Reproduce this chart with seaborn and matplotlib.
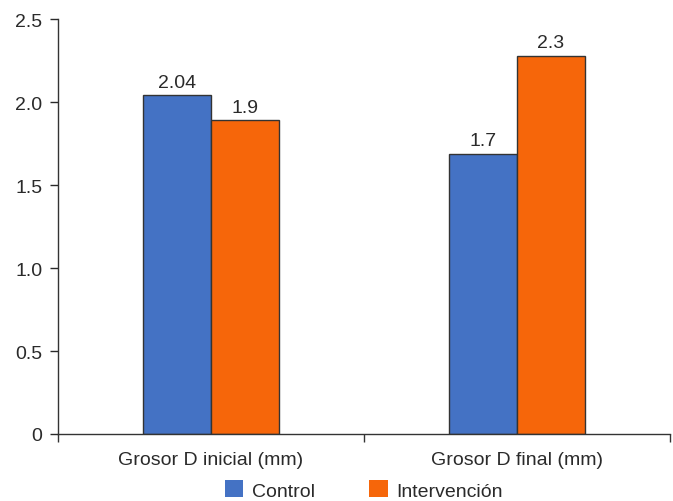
import pandas as pd
import matplotlib.pyplot as plt
import seaborn as sns
from matplotlib.ticker import FixedLocator, NullFormatter

categories = ['Grosor D inicial (mm)', 'Grosor D final (mm)']
groups = ['Control', 'Intervención']
control_vals = [2.04, 1.69]
interv_vals = [1.89, 2.28]
control_labels = ['2.04', '1.7']
interv_labels = ['1.9', '2.3']
y_ticks = [0, 0.5, 1.0, 1.5, 2.0, 2.5]
y_ticklabels = ['0', '0.5', '1.0', '1.5', '2.0', '2.5']

df = pd.DataFrame({
    'cat': categories * 2,
    'grupo': [groups[0]] * 2 + [groups[1]] * 2,
    'valor': control_vals + interv_vals,
})

sns.set_style('white')
plt.rcParams['font.family'] = ['Liberation Sans', 'DejaVu Sans']
fs = 14

fig = plt.figure(figsize=(6.73, 5.02), dpi=100)
ax = fig.add_axes([0.086, 0.1335, 0.9095, 0.8265])

palette = {'Control': '#4472C4', 'Intervención': '#F6660A'}
sns.barplot(data=df, x='cat', y='valor', hue='grupo', order=categories,
            hue_order=groups, palette=palette, width=0.445, saturation=1,
            edgecolor='#333333', linewidth=1, ax=ax)

for cont, labels in zip(ax.containers, [control_labels, interv_labels]):
    ax.bar_label(cont, labels=labels, padding=3, fontsize=fs, color='#2a2a2a')

ax.set_xlim(-0.5, 1.5)
ax.set_ylim(0, 2.5)
ax.set_yticks(y_ticks)
ax.set_yticklabels(y_ticklabels)
ax.xaxis.set_minor_locator(FixedLocator([-0.5, 0.5, 1.5]))
ax.xaxis.set_minor_formatter(NullFormatter())
ax.tick_params(axis='x', which='major', length=0, labelsize=fs, pad=12, colors='#2a2a2a')
ax.tick_params(axis='x', which='minor', length=6, width=1, direction='out', colors='#333333', bottom=True)
ax.tick_params(axis='y', length=6, width=1, direction='out', labelsize=fs, pad=5, colors='#2a2a2a', left=True)
ax.set_xlabel('')
ax.set_ylabel('')

for side in ['top', 'right']:
    ax.spines[side].set_visible(False)
for side in ['left', 'bottom']:
    ax.spines[side].set_color('#333333')
    ax.spines[side].set_linewidth(1)

handles, labels = ax.get_legend_handles_labels()
leg = ax.legend(handles, labels, loc='upper center', bbox_to_anchor=(0.5, -0.112),
                ncol=2, frameon=False, fontsize=fs, handlelength=0.95, handleheight=0.95,
                handletextpad=0.45, columnspacing=2.8, borderaxespad=0, borderpad=0,
                labelcolor='#2a2a2a')
for h in leg.legend_handles:
    h.set_edgecolor('none')

fig.savefig('out.png', dpi=100)
